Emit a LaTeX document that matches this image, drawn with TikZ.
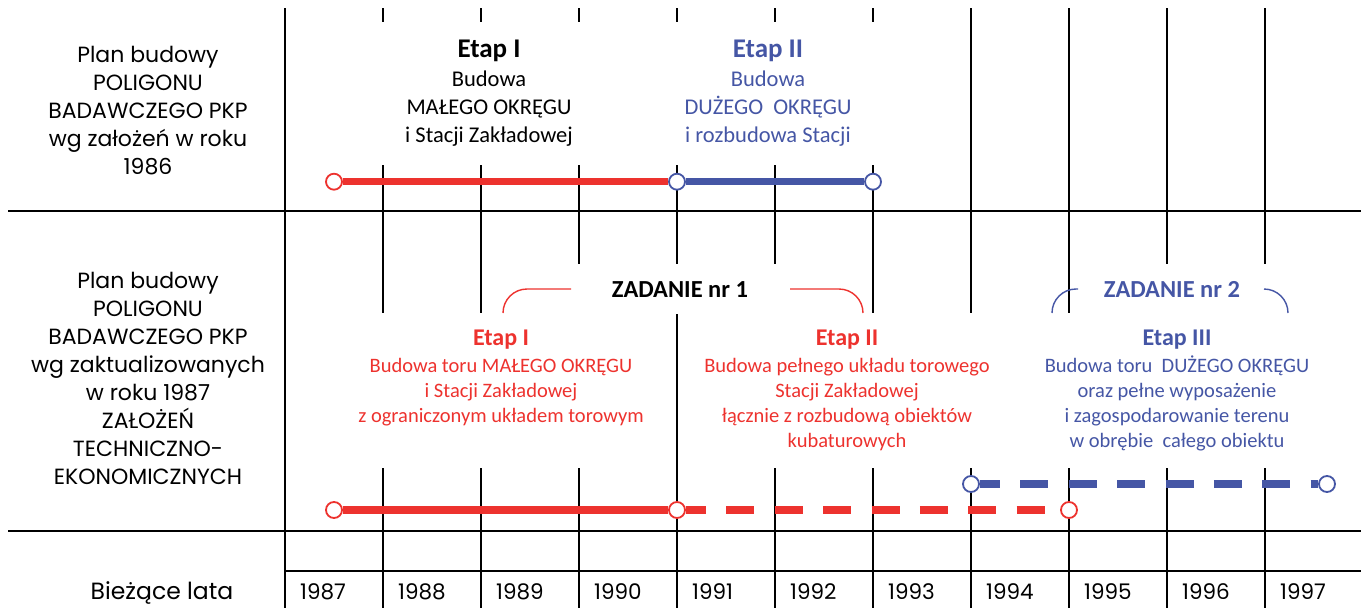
\documentclass[tikz,border=0pt]{standalone}
\usepackage{fontspec}
\setmainfont{Carlito}
\newfontfamily\gothic{Poppins}
\definecolor{planred}{RGB}{237,50,46}
\definecolor{planblue}{RGB}{69,86,165}

\begin{document}
\begin{tikzpicture}[x=1pt,y=-1pt]
  \tikzstyle{gridline}=[line width=1.3pt]
  \tikzstyle{redring}=[circle,draw=planred,fill=white,line width=1.8pt,minimum size=16pt,inner sep=0pt]
  \tikzstyle{bluering}=[redring,draw=planblue]
  \tikzstyle{redbar}=[draw=planred,line width=7.5pt]
  \tikzstyle{bluebar}=[draw=planblue,line width=7.5pt]
  \tikzstyle{dashbar}=[dash pattern=on 28pt off 20.4pt,dash phase=8pt]
  \tikzstyle{bracketline}=[line width=1.4pt]
  \tikzstyle{sidetext}=[font=\gothic\fontsize{22}{28}\selectfont,inner sep=0pt,anchor=base]
  \tikzstyle{yearlab}=[font=\gothic\fontsize{21.5}{24}\selectfont,inner sep=0pt,anchor=base west]
  \tikzstyle{bigtitle}=[font=\bfseries\fontsize{27}{32}\selectfont,inner sep=0pt,anchor=base]
  \tikzstyle{bigbody}=[font=\fontsize{22.5}{28}\selectfont,inner sep=0pt,anchor=base]
  \tikzstyle{zadanie}=[font=\bfseries\fontsize{24.5}{30}\selectfont,inner sep=0pt,anchor=base]
  \tikzstyle{smalltitle}=[font=\bfseries\fontsize{24}{30}\selectfont,inner sep=0pt,anchor=base]
  \tikzstyle{smallbody}=[font=\fontsize{20.5}{25.3}\selectfont,inner sep=0pt,anchor=base]
  \useasboundingbox (0,0) rectangle (1361,608);
  % grid
  \draw[gridline] (8,211) -- (1361,211);
  \draw[gridline] (8,531) -- (1361,531);
  \draw[gridline] (285,571) -- (1361,571);
  \draw[gridline] (285,8) -- (285,608);
  \foreach \k in {1,...,6}
    \draw[gridline] (285+98*\k,8) -- (285+98*\k,22);
  \foreach \k/\ya/\yb in {1/165/313,2/165/313,3/165/264,4/165/264,5/165/264,
                          6/165/313,7/8/313,8/8/313,9/8/264,10/8/264}
    \draw[gridline] (285+98*\k,\ya) -- (285+98*\k,\yb);
  \foreach \k in {1,...,10}
    \draw[gridline] (285+98*\k,468) -- (285+98*\k,608);
  \draw[gridline] (677,314) -- (677,468);
  % left column
  \node[sidetext] (plan86) at (148,62) {\begin{tabular}[t]{@{}c@{}}Plan budowy\\POLIGONU\\BADAWCZEGO PKP\\wg założeń w roku\\1986\end{tabular}};
  \node[sidetext] (plan87) at (148,288) {\begin{tabular}[t]{@{}c@{}}Plan budowy\\POLIGONU\\BADAWCZEGO PKP\\wg zaktualizowanych\\w roku 1987\\ZAŁOŻEŃ\\TECHNICZNO-\\EKONOMICZNYCH\end{tabular}};
  \node[sidetext,font=\gothic\fontsize{23.5}{28}\selectfont] (lata) at (162,599) {Bieżące lata};
  \foreach \k/\yr in {0/1987,1/1988,2/1989,3/1990,4/1991,5/1992,6/1993,7/1994,8/1995,9/1996,10/1997}
    \node[yearlab] (y\yr) at (300+98*\k,599) {\yr};
  % plan 1986
  \node[bigtitle] (etapA) at (489,57) {Etap I};
  \node[bigbody] (budA) at (489,86) {\begin{tabular}[t]{@{}c@{}}Budowa\\MAŁEGO OKRĘGU\\i Stacji Zakładowej\end{tabular}};
  \node[bigtitle,text=planblue] (etapB) at (768,57) {Etap II};
  \node[bigbody,text=planblue] (budB) at (768,86) {\begin{tabular}[t]{@{}c@{}}Budowa\\DUŻEGO\ \ OKRĘGU\\i rozbudowa Stacji\end{tabular}};
  \node[redring] (topA) at (334,181.7) {};
  \node[bluering] (topB) at (677,181.7) {};
  \node[bluering] (topC) at (873,181.7) {};
  \draw[redbar] (topA) -- (topB);
  \draw[bluebar] (topB) -- (topC);
  % plan 1987
  \node[zadanie] (zad1) at (680,297.5) {ZADANIE nr 1};
  \node[zadanie,text=planblue] (zad2) at (1172,297.5) {ZADANIE nr 2};
  \draw[bracketline,planred] (503,313) .. controls (503,299.75) and (513.75,289) .. (527,289) -- (571,289);
  \draw[bracketline,planred] (790,289) -- (839,289) .. controls (852.25,289) and (863,299.75) .. (863,313);
  \draw[bracketline,planblue] (1052,313) .. controls (1052,299.75) and (1062.75,289) .. (1076,289) -- (1078,289);
  \draw[bracketline,planblue] (1264,289) .. controls (1277.25,289) and (1288,299.75) .. (1288,313);
  \node[smalltitle,text=planred] (etap1) at (501,345.7) {Etap I};
  \node[smalltitle,text=planred] (etap2) at (847,345.7) {Etap II};
  \node[smalltitle,text=planblue] (etap3) at (1177,345.7) {Etap III};
  \node[smallbody,text=planred] (bud1) at (501,372) {\begin{tabular}[t]{@{}c@{}}Budowa toru MAŁEGO OKRĘGU\\i Stacji Zakładowej\\z ograniczonym układem torowym\end{tabular}};
  \node[smallbody,text=planred] (bud2) at (847,372) {\begin{tabular}[t]{@{}c@{}}Budowa pełnego układu torowego\\Stacji Zakładowej\\łącznie z rozbudową obiektów\\kubaturowych\end{tabular}};
  \node[smallbody,text=planblue] (bud3) at (1177,372) {\begin{tabular}[t]{@{}c@{}}Budowa toru\ \ DUŻEGO OKRĘGU\\oraz pełne wyposażenie\\i zagospodarowanie terenu\\w obrębie\ \ całego obiektu\end{tabular}};
  \node[redring] (lowA) at (334,510) {};
  \node[redring] (lowB) at (677,510) {};
  \node[redring] (lowC) at (1069,510) {};
  \node[bluering] (lowD) at (971,484) {};
  \node[bluering] (lowE) at (1327,484) {};
  \draw[redbar] (lowA) -- (lowB);
  \draw[redbar,dashbar] (lowB) -- (lowC);
  \draw[bluebar,dashbar] (lowD) -- (lowE);
\end{tikzpicture}
\end{document}
